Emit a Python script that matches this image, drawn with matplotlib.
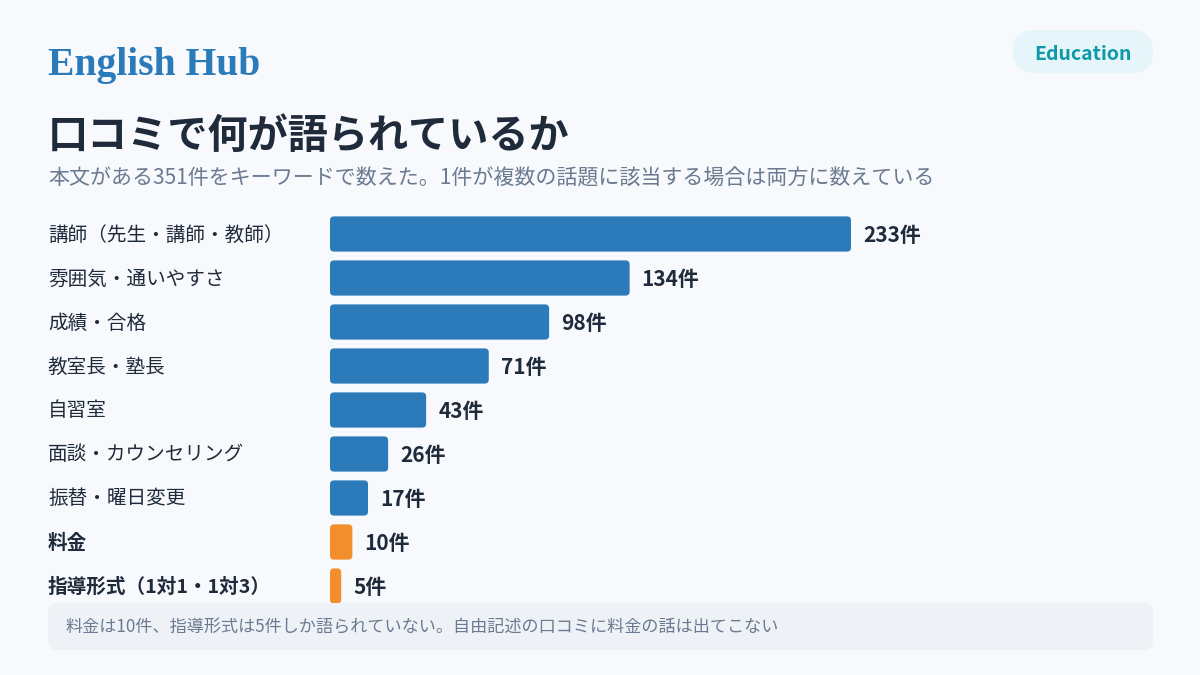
import matplotlib
matplotlib.use("Agg")
import matplotlib.pyplot as plt
from matplotlib.patches import FancyBboxPatch

plt.rcParams['font.family'] = ['Noto Sans CJK JP', 'DejaVu Sans']

# data
topics = ["講師（先生・講師・教師）", "雰囲気・通いやすさ", "成績・合格", "教室長・塾長",
          "自習室", "面談・カウンセリング", "振替・曜日変更", "料金", "指導形式（1対1・1対3）"]
counts = [233, 134, 98, 71, 43, 26, 17, 10, 5]
highlight = [False, False, False, False, False, False, False, True, True]

BG = "#f7f9fc"
BLUE = "#2b7bba"
ORANGE = "#f28e2b"
DARK = "#1f2a3a"
GRAY = "#6b7a90"

W, H = 1200, 675
fig = plt.figure(figsize=(12, 6.75), dpi=100, facecolor=BG)

def fx(px):
    return px / W

def fy(py):
    return 1 - py / H

# header
fig.text(fx(48), fy(75), "English Hub", family="Liberation Serif", fontweight="bold",
         fontsize=28.5, color=BLUE, va="baseline", ha="left")
badge = FancyBboxPatch((fx(1013), fy(73)), fx(1153) - fx(1013), fy(30) - fy(73),
                       boxstyle="round,pad=0,rounding_size=0.018", transform=fig.transFigure,
                       facecolor="#e6f5fa", edgecolor="none", mutation_aspect=W / H)
fig.add_artist(badge)
fig.text(fx(1083), fy(54.5), "Education", fontsize=14, fontweight="bold", color="#0e9aa7",
         ha="center", va="center")

fig.text(fx(48), fy(136), "口コミで何が語られているか", fontsize=28.9, fontweight="bold",
         color=DARK, ha="left", va="center")
fig.text(fx(48), fy(178), "本文がある351件をキーワードで数えた。1件が複数の話題に該当する場合は両方に数えている",
         fontsize=15.1, color=GRAY, ha="left", va="center")

# bar area
ax_left, ax_right, ax_top, ax_bottom = 330, 1153, 212, 608
ax = fig.add_axes([fx(ax_left), fy(ax_bottom), fx(ax_right) - fx(ax_left), fy(ax_top) - fy(ax_bottom)])
ax.set_facecolor("none")
xmax = (ax_right - ax_left) / 2.236
ax.set_xlim(0, xmax)
ax.set_ylim(len(topics) - 0.5, -0.5)
ax.axis("off")

ypos = list(range(len(topics)))
colors = [ORANGE if h else BLUE for h in highlight]
bars = ax.barh(ypos, counts, height=0.8, color=colors)

px_x = 2.236
px_y = (ax_bottom - ax_top) / len(topics)
r = 4.0
for b, c in zip(bars, colors):
    x0, y0, w, h = b.get_x(), b.get_y(), b.get_width(), b.get_height()
    b.set_visible(False)
    ax.add_patch(FancyBboxPatch((x0, y0), w, h,
                                boxstyle=f"round,pad=0,rounding_size={r / px_x}",
                                mutation_aspect=px_x / px_y, facecolor=c, edgecolor="none"))

for i, (t, v, hl) in enumerate(zip(topics, counts, highlight)):
    ax.text(v + 12 / px_x, i + 0.03, f"{v}件", fontsize=15, fontweight="bold", color=DARK,
            ha="left", va="center")
    yc = ax_top + px_y * (i + 0.5) + 1
    fig.text(fx(48), fy(yc), t, fontsize=14.1, color=DARK,
             fontweight="bold" if hl else "normal", ha="left", va="center")

# footer note
note = FancyBboxPatch((fx(48), fy(650)), fx(1153) - fx(48), fy(603) - fy(650),
                      boxstyle="round,pad=0,rounding_size=0.008", transform=fig.transFigure,
                      facecolor="#eef2f6", edgecolor="none", mutation_aspect=W / H, zorder=5)
fig.add_artist(note)
t = fig.text(fx(66), fy(627), "料金は10件、指導形式は5件しか語られていない。自由記述の口コミに料金の話は出てこない",
             fontsize=12.3, color=GRAY, ha="left", va="center")
t.set_zorder(6)

fig.savefig("out.png", dpi=100, facecolor=BG)
